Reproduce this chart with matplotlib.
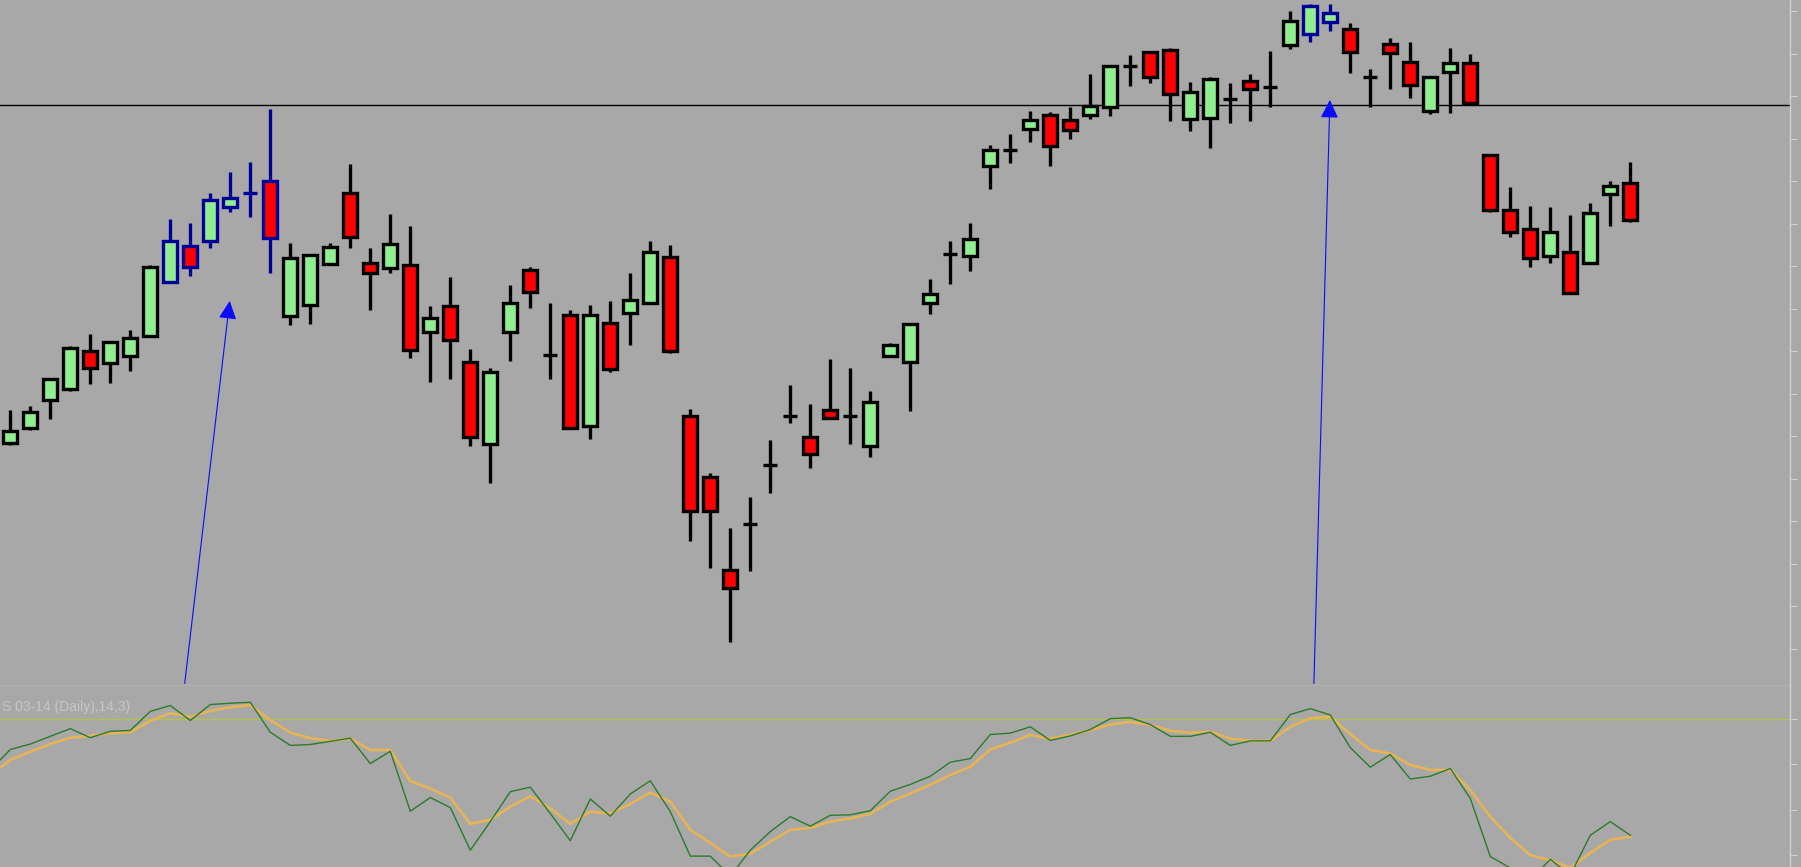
import numpy as np
import matplotlib
matplotlib.use("Agg")
import matplotlib.pyplot as plt
from matplotlib.patches import Rectangle

# Dagliga staplar (godtycklig prisskala)
opens = [414, 427.7, 451.7, 461, 494.4, 483.7, 490, 507.5, 554.8, 586.1,
         590.5, 620, 632.3, 642.4, 524.9, 534.5, 570.2, 632.3, 570.7, 566.4,
         569, 511.2, 533.6, 485.1, 413.4, 511.2, 564.9, 491, 525.8, 429.4,
         518.5, 527.2, 536, 576, 437.8, 385, 303.7, 343.5, 395.2, 438.1,
         419.8, 443, 437.8, 411.7, 490.3, 484.5, 536, 578.9, 577.1, 655.8,
         669.1, 687.7, 699.9, 695.5, 699.9, 707.1, 742.5, 755, 756.5, 696.1,
         697, 714.1, 729.5, 724, 760.8, 770.1, 781.1, 774.5, 732.7, 761.7,
         746.3, 703.6, 737.6, 744.9, 665.1, 617.2, 600.3, 577.1, 580.9, 571.3,
         630.8, 641]
highs = [443, 446.5, 470.6, 498.8, 508.9, 502, 512.7, 569, 609.3, 605.6,
         631.7, 650.3, 658.7, 705.1, 588.1, 578, 588.1, 657.2, 583.8, 613.7,
         603.2, 533.6, 559.1, 495.9, 479.3, 551.9, 567.8, 535.9, 530.1, 534.5,
         538, 562, 590, 587, 443.9, 387.9, 340, 367, 416.9, 464.8,
         448, 487.2, 479.3, 459.6, 501.1, 517.6, 557, 590, 605.6, 673.8,
         683, 703.4, 702.8, 706.6, 735.6, 743.4, 752.1, 755, 757.9, 728.3,
         732.7, 727.5, 735.6, 755.6, 790.7, 796.5, 796.5, 779.7, 739.6, 766.6,
         763.7, 733.8, 757.9, 753, 665.1, 636.9, 620.7, 619.5, 612.8, 623,
         642, 659.2]
lows = [412.5, 425.6, 435.2, 459.9, 465.4, 466.3, 477, 506.9, 553.3, 560,
        583.8, 615.1, 611.4, 562, 517, 517.6, 570.2, 583.8, 530.1, 562.6,
        488, 467.7, 470, 412, 379.2, 486, 531.6, 470, 426.2, 417.5,
        476.4, 499.6, 536, 493, 329.3, 305.2, 241.3, 303.1, 370.5, 432,
        392.3, 435.8, 413.4, 402.4, 490.3, 442.5, 526.6, 552.7, 564.4, 635.2,
        657.8, 676.7, 655.8, 678.7, 696.4, 699.3, 725.4, 727.5, 694.9, 686.2,
        670.9, 692.6, 694.9, 706.6, 757.1, 763.2, 773.3, 736.7, 707.1, 722.2,
        714.4, 700.7, 701.9, 710, 615.1, 593.9, 567.3, 570.7, 545.2, 571.3,
        603.2, 607]
closes = [425, 441, 469.7, 497.3, 479.9, 502, 506, 567.8, 590.5, 567.8,
          625.6, 628, 632.3, 593.1, 575.7, 578, 584.7, 593.4, 562, 587.6,
          495.3, 522.9, 504, 419.3, 476.4, 536.5, 546, 491, 427.7, 525.8,
          478.7, 538.8, 581, 494.7, 355.1, 355.1, 287.8, 343.5, 395.2, 438.1,
          404.5, 435.8, 437.8, 450.3, 499.6, 517.6, 544, 578.9, 591.6, 669.4,
          669.1, 695.5, 673.2, 686.8, 707.7, 742.5, 742.5, 733.2, 717.9, 720.2,
          731.2, 714.1, 722.2, 724, 782, 794.8, 788.4, 755, 732.7, 754.1,
          726, 732.7, 745.4, 710, 617.2, 598.3, 575.1, 598.3, 545.2, 614.8,
          638.1, 608.5]

# staplar som är markerade med blå kontur
blue_bars = [8, 9, 10, 11, 12, 13, 65, 66]

# horisontell nivå och pilar (stapelindex, pris)
level_price = 709
arrow_tails = [(8.72, 205), (65.18, 205)]
arrow_tips = [(10.97, 538), (65.98, 713)]

# Stochastic (14,3) i nedre fönstret, första punkten ligger utanför vänsterkanten
stoch_x = list(range(-1, 82))
stoch_k = [58.8, 63.3, 64.5, 66.2, 67.9, 65.9, 67.3, 67.5, 71.7, 73.0,
           69.7, 73.2, 73.5, 73.7, 67.1, 64.2, 64.4, 65.1, 65.8, 60.2,
           62.9, 49.7, 52.7, 50.5, 41.1, 47.4, 54.0, 55.0, 49.2, 43.2,
           52.4, 48.6, 53.5, 56.4, 49.6, 39.8, 39.8, 35.4, 41.1, 45.2,
           48.5, 46.4, 48.8, 48.9, 49.8, 54.1, 55.6, 57.4, 60.5, 61.3,
           66.6, 66.9, 68.3, 65.3, 66.3, 67.7, 70.1, 70.3, 68.8, 66.2,
           66.2, 67.1, 64.2, 65.2, 65.2, 71.0, 72.3, 70.9, 63.7, 59.4,
           62.2, 56.8, 57.4, 59.1, 52.5, 39.7, 37.2, 34.5, 39.1, 35.6,
           44.4, 47.4, 44.4]
stoch_d = [57.7, 61.0, 62.8, 64.5, 65.9, 66.3, 66.9, 67.1, 69.6, 71.3,
           70.5, 71.8, 72.6, 73.1, 69.8, 67.0, 65.8, 65.2, 65.7, 63.2,
           63.2, 56.3, 54.7, 52.7, 46.9, 47.8, 50.7, 53.0, 50.3, 46.9,
           49.6, 49.2, 51.3, 53.8, 51.8, 45.6, 42.7, 39.7, 40.3, 43.0,
           45.6, 46.0, 47.4, 48.1, 49.1, 51.8, 53.6, 55.5, 57.7, 59.5,
           63.3, 64.8, 66.5, 65.7, 66.5, 67.6, 68.8, 69.4, 68.7, 67.4,
           67.0, 67.2, 65.7, 65.2, 65.2, 68.3, 70.2, 70.5, 66.7, 63.2,
           62.4, 59.9, 58.8, 58.8, 54.4, 48.5, 43.8, 40.0, 38.9, 37.2,
           40.5, 43.4, 44.1]
stoch_level = 70
stoch_label = "S 03-14 (Daily),14,3)"

bg = "#a8a8a8"
axis_col = "#d2d2d2"

fig = plt.figure(figsize=(18.01, 8.67), dpi=100, facecolor=bg)
ax = fig.add_axes([0, 0.2088, 0.99389, 0.7912], facecolor=bg)
ax2 = fig.add_axes([0, 0, 0.99389, 0.2088], facecolor=bg)

# ljusstakar: veke först, sedan kropp
w = 0.72
for i in range(len(opens)):
    o, h, l, c = opens[i], highs[i], lows[i], closes[i]
    edge = "#000096" if i in blue_bars else "black"
    if c > o:
        face = "#90ee90"
    elif c < o:
        face = "#ff0000"
    else:
        face = edge
    ax.vlines(i, l, h, color=edge, linewidth=2.4, zorder=2)
    rect = Rectangle((i - w / 2, min(o, c)), w, abs(c - o), facecolor=face,
                     edgecolor=edge, linewidth=2.4, joinstyle="miter", zorder=3)
    ax.add_patch(rect)

ax.axhline(level_price, color="black", linewidth=1.0, zorder=1)

for tail, tip in zip(arrow_tails, arrow_tips):
    ax.annotate("", xy=tip, xytext=tail,
                arrowprops=dict(arrowstyle="-|>,head_length=0.45,head_width=0.22",
                                color="#0a0aff", lw=0.8, shrinkA=0, shrinkB=0,
                                mutation_scale=25))

ax.set_xlim(-0.515, 88.985)
ax.set_ylim(202.8, 800)

# nedre fönstret
ax2.axhline(stoch_level, color="#b4c24c", linewidth=0.9, zorder=1)
ax2.plot(stoch_x, stoch_d, color="#e6b455", linewidth=1.9, zorder=2)
ax2.plot(stoch_x, stoch_k, color="#2c7a2c", linewidth=1.0, zorder=3)
ax2.set_xlim(-0.515, 88.985)
ax2.set_ylim(37.4, 77.3)
ax2.text(0.001, 0.886, stoch_label, transform=ax2.transAxes, ha="left",
         va="center", color="#c6c6c6", fontsize=10,
         family=["Liberation Sans Narrow", "Liberation Sans", "DejaVu Sans"])

# axlar: bara höger kant med små streck
for a in (ax, ax2):
    for side in ("top", "left"):
        a.spines[side].set_visible(False)
    a.spines["right"].set_color(axis_col)
    a.spines["right"].set_linewidth(1.0)
    a.spines["bottom"].set_visible(False)
    a.set_xticks([])
    a.yaxis.tick_right()
    a.tick_params(axis="y", direction="out", length=5, width=0.8,
                  color=axis_col, labelright=False)

ax.spines["bottom"].set_visible(True)
ax.spines["bottom"].set_color(axis_col)
ax.spines["bottom"].set_linewidth(1.0)
ax.set_yticks(np.arange(790, 200, -37))
ax2.set_yticks([40, 50, 60, 70])

fig.savefig("out.png", dpi=100, facecolor=bg)
